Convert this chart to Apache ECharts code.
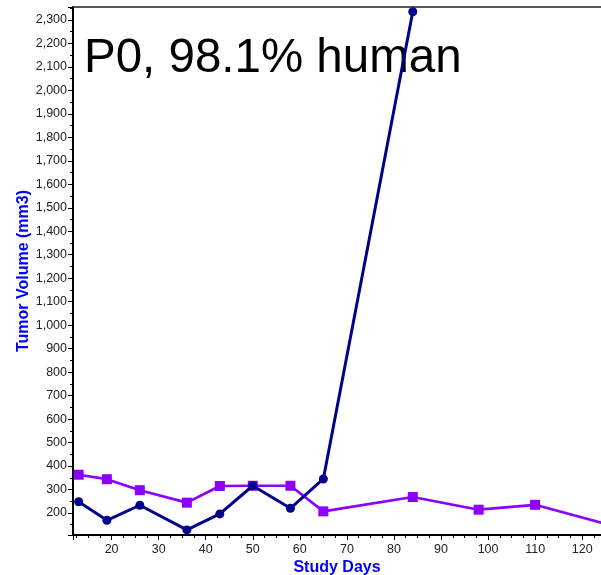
<!DOCTYPE html>
<html>
<head>
<meta charset="utf-8">
<script src="https://cdn.jsdelivr.net/npm/echarts@6/dist/echarts.min.js"></script>
<style>
html,body{margin:0;padding:0;background:#fff;}
#chart{width:601px;height:575px;}
</style>
</head>
<body>
<div id="chart"></div>
<script>
// ---- data ----
const titleText = 'P0, 98.1% human';
const xAxisName = 'Study Days';
const yAxisName = 'Tumor Volume (mm3)';

const blueDays = [13, 19, 26, 36, 43, 50, 58, 65, 84];
const blueVals = [248, 169, 233, 128, 196, 316, 220, 345, 2335];

const purpleDays = [13, 19, 26, 36, 43, 50, 58, 65, 84, 98, 110, 126];
const purpleVals = [363, 344, 297, 244, 315, 316, 316, 207, 268, 214, 235, 148];

const xMin = 11.8, xMax = 124;
const yMin = 106.3, yMax = 2355;

const blueData = blueDays.map((d, i) => [d, blueVals[i]]);
const purpleData = purpleDays.map((d, i) => [d, purpleVals[i]]);

const chart = echarts.init(document.getElementById('chart'), null, {renderer: 'canvas'});

const labelFont = {fontFamily: 'Liberation Sans, Arial, sans-serif', fontSize: 12.5, color: '#222'};

function isMult(v, step) {
  return Math.abs(v - Math.round(v / step) * step) < 1e-6;
}

chart.setOption({
  animation: false,
  backgroundColor: '#fff',
  grid: {left: 73, right: 0, top: 7, bottom: 40, containLabel: false, outerBoundsMode: 'none'},
  graphic: [{
    type: 'text',
    left: 84,
    top: 35,
    z: 0,
    style: {
      text: titleText,
      fontFamily: 'Liberation Sans, Arial, sans-serif',
      fontSize: 47.5,
      fill: '#000'
    }
  }],
  xAxis: [{
    type: 'value',
    min: xMin,
    max: xMax,
    splitNumber: 11,
    name: xAxisName,
    nameLocation: 'middle',
    nameGap: 25,
    nameMoveOverlap: false,
    nameTextStyle: {fontFamily: 'Liberation Sans, Arial, sans-serif', fontSize: 16, fontWeight: 'bold', color: '#0000ff'},
    axisLine: {show: true, onZero: false, lineStyle: {color: '#000', width: 2}},
    axisTick: {show: true, inside: false, length: 5, lineStyle: {color: '#000', width: 1}},
    minorTick: {show: true, splitNumber: 4, length: 3, lineStyle: {color: '#000', width: 1}},
    axisLabel: Object.assign({margin: 8, formatter: v => (isMult(v, 10) && v >= 20 && v <= 120) ? String(Math.round(v)) : ''}, labelFont),
    splitLine: {show: false},
    minorSplitLine: {show: false}
  }, {
    type: 'value',
    position: 'top',
    min: xMin,
    max: xMax,
    axisLine: {show: true, onZero: false, lineStyle: {color: '#222', width: 1.5}},
    axisTick: {show: false},
    axisLabel: {show: false},
    splitLine: {show: false}
  }],
  yAxis: {
    type: 'value',
    min: yMin,
    max: yMax,
    splitNumber: 22,
    name: yAxisName,
    nameLocation: 'middle',
    nameGap: 41,
    nameMoveOverlap: false,
    nameTextStyle: {fontFamily: 'Liberation Sans, Arial, sans-serif', fontSize: 16, fontWeight: 'bold', color: '#0000ff'},
    axisLine: {show: true, onZero: false, lineStyle: {color: '#000', width: 2}},
    axisTick: {show: true, inside: false, length: 5, lineStyle: {color: '#000', width: 1}},
    minorTick: {show: true, splitNumber: 2, length: 3, lineStyle: {color: '#000', width: 1}},
    axisLabel: Object.assign({margin: 6, formatter: v => (isMult(v, 100) && v >= 200 && v <= 2300) ? Math.round(v).toLocaleString('en-US') : ''}, labelFont),
    splitLine: {show: false},
    minorSplitLine: {show: false}
  },
  series: [{
    name: 'purple',
    type: 'line',
    xAxisIndex: 0,
    data: purpleData,
    symbol: 'rect',
    symbolSize: 10,
    clip: true,
    z: 3,
    lineStyle: {color: '#8b00ff', width: 2.7},
    itemStyle: {color: '#8b00ff'}
  }, {
    name: 'navy',
    type: 'line',
    xAxisIndex: 0,
    data: blueData,
    symbol: 'circle',
    symbolSize: 9,
    clip: true,
    z: 4,
    lineStyle: {color: '#00008b', width: 3},
    itemStyle: {color: '#00008b'}
  }]
});
</script>
</body>
</html>
